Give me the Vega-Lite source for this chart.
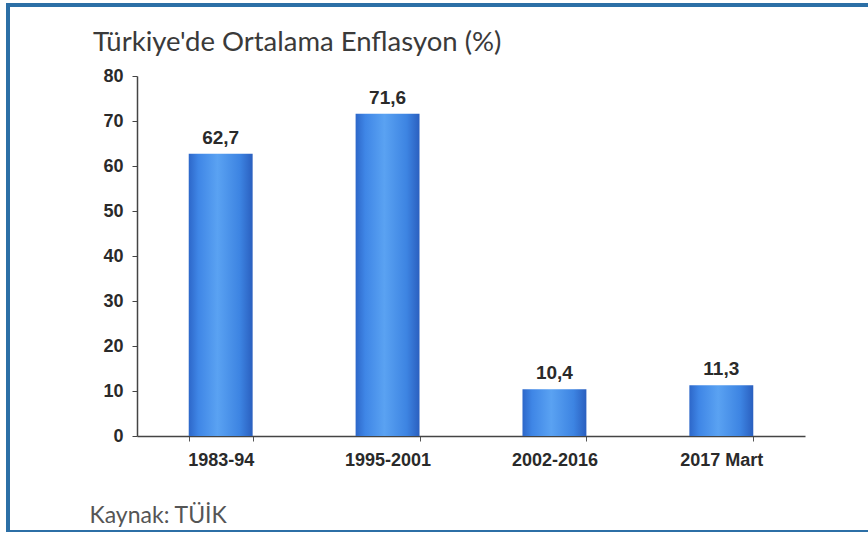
{
  "$schema": "https://vega.github.io/schema/vega-lite/v6.json",
  "autosize": {"type": "none"},
  "padding": {"left": 8, "top": 5, "right": 0, "bottom": 0},
  "width": 900,
  "height": 527,
  "background": "white",
  "config": {
    "view": {"stroke": "#2c6fa6", "strokeWidth": 4, "fill": "white"},
    "locale": {"number": {"decimal": ",", "thousands": ".", "grouping": [3], "currency": ["", ""]}}
  },
  "title": {
    "text": "Türkiye'de Ortalama Enflasyon (%)",
    "anchor": "start",
    "frame": "group",
    "orient": "top",
    "baseline": "top",
    "offset": -24,
    "dx": 85,
    "dy": 27,
    "font": "Lato",
    "fontSize": 27.5,
    "fontWeight": "normal",
    "color": "#3a3a3a"
  },
  "data": {
    "values": [
      {"donem": "1983-94", "enflasyon": 62.7},
      {"donem": "1995-2001", "enflasyon": 71.6},
      {"donem": "2002-2016", "enflasyon": 10.4},
      {"donem": "2017 Mart", "enflasyon": 11.3}
    ]
  },
  "encoding": {
    "x": {
      "field": "donem",
      "type": "nominal",
      "sort": null,
      "scale": {"range": [129, 797], "paddingInner": 0.617, "paddingOuter": 0.31},
      "axis": {
        "orient": "bottom",
        "offset": -96,
        "labelAngle": 0,
        "labelFont": "Liberation Sans",
        "labelFontSize": 18,
        "labelFontWeight": "bold",
        "labelColor": "#2a2a2a",
        "labelPadding": 10,
        "tickBand": "extent",
        "tickSize": 5,
        "tickColor": "#555",
        "domainColor": "#444",
        "domainWidth": 1.5,
        "grid": false,
        "title": "Kaynak: TÜİK",
        "titleFont": "Lato",
        "titleFontSize": 23,
        "titleFontWeight": "normal",
        "titleColor": "#555",
        "titleAnchor": "start",
        "titleAlign": "left",
        "titleBaseline": "alphabetic",
        "titleX": 81,
        "titleY": 86
      }
    },
    "y": {
      "field": "enflasyon",
      "type": "quantitative",
      "scale": {"domain": [0, 80], "range": [431, 71], "nice": false},
      "axis": {
        "orient": "left",
        "offset": -129,
        "values": [0, 10, 20, 30, 40, 50, 60, 70, 80],
        "format": "d",
        "labelFont": "Liberation Sans",
        "labelFontSize": 18,
        "labelFontWeight": "bold",
        "labelColor": "#2a2a2a",
        "labelPadding": 9,
        "tickSize": 5,
        "tickColor": "#444",
        "domainColor": "#444",
        "domainWidth": 1.5,
        "grid": false,
        "title": null
      }
    }
  },
  "layer": [
    {
      "mark": {
        "type": "bar",
        "color": {
          "gradient": "linear",
          "x1": 0, "y1": 0, "x2": 1, "y2": 0,
          "stops": [
            {"offset": 0, "color": "#2d67c9"},
            {"offset": 0.15, "color": "#3f86e6"},
            {"offset": 0.45, "color": "#5aa2f2"},
            {"offset": 0.8, "color": "#3d84e2"},
            {"offset": 1, "color": "#2a5fbf"}
          ]
        }
      }
    },
    {
      "mark": {
        "type": "text",
        "baseline": "alphabetic",
        "dy": -10,
        "font": "Liberation Sans",
        "fontSize": 19,
        "fontWeight": "bold",
        "color": "#2a2a2a"
      },
      "encoding": {
        "text": {"field": "enflasyon", "type": "quantitative", "format": ".1f"}
      }
    }
  ]
}
